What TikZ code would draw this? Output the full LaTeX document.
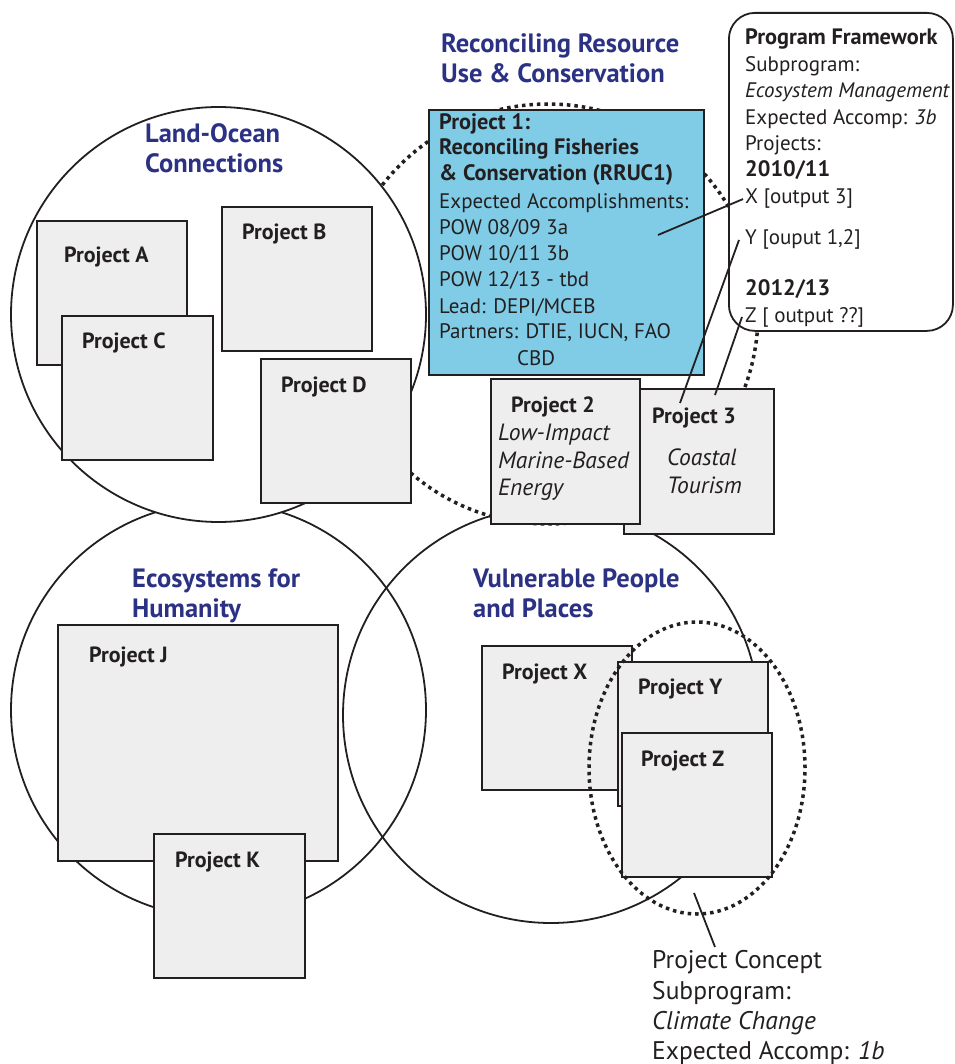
\documentclass[tikz,border=0pt]{standalone}
\usepackage{fontspec}
\setmainfont{PT Sans}
\usetikzlibrary{shapes.geometric}
\definecolor{navy}{RGB}{43,49,131}
\definecolor{ink}{RGB}{35,31,32}
\definecolor{boxgray}{RGB}{238,238,238}
\definecolor{sky}{RGB}{128,204,230}
\begin{document}
\begin{tikzpicture}[x=1pt,y=-1pt,
  txt/.style={anchor=base west, inner sep=0pt, text=ink},
  heading/.style={txt, text=navy, font=\fontsize{26.5}{30}\selectfont\bfseries},
  plabel/.style={txt, font=\fontsize{22}{26}\selectfont\bfseries},
  body/.style={txt, font=\fontsize{21}{26}\selectfont},
  bodybf/.style={txt, font=\fontsize{22.3}{26}\selectfont\bfseries},
  bodyit/.style={txt, font=\fontsize{21}{26}\selectfont\itshape},
  boxit/.style={txt, font=\fontsize{23.5}{28}\selectfont\itshape},
  note/.style={txt, font=\fontsize{25.5}{30}\selectfont},
  proj/.style={draw=ink, line width=2.2pt, fill=boxgray, rectangle, inner sep=0pt, anchor=north west},
  ring/.style={draw=ink, line width=1.8pt, circle, inner sep=0pt},
  dots/.style={draw=ink, line width=3.5pt, dash pattern=on 3.5pt off 4pt},
  link/.style={draw=ink, line width=1.8pt}]
\useasboundingbox (0,0) rectangle (954,1064);

% theme circles
\node[ring, minimum size=415] (eco) at (218.5,710) {};
\node[ring, minimum size=416] (vul) at (551,715) {};
\node[dots, circle, inner sep=0pt, minimum size=420] (rec) at (548,314) {};
\node[ring, fill=white, minimum size=415] (lo) at (218.5,314.5) {};

% programme framework call-out
\node[draw=ink, line width=1.8pt, fill=white, rounded corners=26pt, rectangle,
      inner sep=0pt, anchor=north west, minimum width=224, minimum height=318] (pf) at (728,12) {};

% project boxes
\node[proj, minimum width=150, minimum height=144] (pA) at (36,220) {};
\node[proj, minimum width=151, minimum height=144] (pC) at (61,315) {};
\node[proj, minimum width=150, minimum height=144] (pB) at (221,206) {};
\node[proj, minimum width=150, minimum height=144] (pD) at (260,358) {};
\node[proj, minimum width=280, minimum height=236] (pJ) at (57,624) {};
\node[proj, minimum width=151, minimum height=144] (pK) at (153,833) {};
\node[proj, minimum width=150, minimum height=144] (pX) at (481,645) {};
\node[proj, minimum width=150, minimum height=144] (pY) at (617,661) {};
\node[proj, minimum width=150, minimum height=144] (pZ) at (621,732) {};
\node[proj, minimum width=150, minimum height=145] (p3) at (623,388) {};
\node[proj, minimum width=149, minimum height=145] (p2) at (490,378) {};
\node[proj, fill=sky, minimum width=275, minimum height=265] (p1) at (428,109) {};

% climate change concept grouping
\node[dots, ellipse, inner sep=0pt, minimum width=216, minimum height=292] (cc) at (697,768) {};

% theme headings
\node[heading] (hlo1) at (145,143) {Land-Ocean};
\node[heading] (hlo2) at (145,173) {Connections};
\node[heading] (hrc1) at (441,53) {Reconciling Resource};
\node[heading] (hrc2) at (441,83) {Use \& Conservation};
\node[heading] (hec1) at (132,587) {Ecosystems for};
\node[heading] (hec2) at (132,617) {Humanity};
\node[heading] (hvu1) at (473,587) {Vulnerable People};
\node[heading] (hvu2) at (473,617) {and Places};

% project labels
\node[plabel] (tA) at (64,262) {Project A};
\node[plabel] (tB) at (242,240) {Project B};
\node[plabel] (tC) at (82,348) {Project C};
\node[plabel] (tD) at (281,392) {Project D};
\node[plabel] (tJ) at (89,662) {Project J};
\node[plabel] (tK) at (175,867) {Project K};
\node[plabel] (tX) at (502,679) {Project X};
\node[plabel] (tY) at (638,694) {Project Y};
\node[plabel] (tZ) at (641,766) {Project Z};
\node[plabel] (t2) at (511,412) {Project 2};
\node[boxit] (t2a) at (498,440) {Low-Impact};
\node[boxit] (t2b) at (498,468) {Marine-Based};
\node[boxit] (t2c) at (498,495) {Energy};
\node[plabel] (t3) at (652,423) {Project 3};
\node[boxit] (t3a) at (667,465) {Coastal};
\node[boxit] (t3b) at (667,493) {Tourism};

% project 1 details
\node[bodybf] (b1) at (439,130) {Project 1:};
\node[bodybf] (b2) at (439,155) {Reconciling Fisheries};
\node[bodybf] (b3) at (439,181) {\& Conservation (RRUC1)};
\node[body] (b4) at (439,209) {Expected Accomplishments:};
\node[body] (b5) at (439,235) {POW 08/09 3a};
\node[body] (b6) at (439,261) {POW 10/11 3b};
\node[body] (b7) at (439,287) {POW 12/13 - tbd};
\node[body] (b8) at (439,313) {Lead: DEPI/MCEB};
\node[body] (b9) at (439,338) {Partners: DTIE, IUCN, FAO};
\node[body] (b10) at (517,365) {CBD};

% programme framework text
\node[bodybf] (f1) at (745,45) {Program Framework};
\node[body] (f2) at (745,72) {Subprogram:};
\node[bodyit] (f3) at (745,98) {Ecosystem Management};
\node[body] (f4) at (745,125) {Expected Accomp: \textit{3b}};
\node[body] (f5) at (745,151) {Projects:};
\node[bodybf] (f6) at (745,177) {2010/11};
\node[body] (fx) at (745,204) {X [output 3]};
\node[body] (fy) at (745,245) {Y [ouput 1,2]};
\node[bodybf] (f7) at (745,295) {2012/13};
\node[body] (fz) at (745,322) {Z [ output ??]};

% climate change concept text
\node[note] (c1) at (652,968) {Project Concept};
\node[note] (c2) at (652,999) {Subprogram:};
\node[note, font=\fontsize{25.5}{30}\selectfont\itshape] (c3) at (652,1029) {Climate Change};
\node[note] (c4) at (652,1059) {Expected Accomp: \textit{1b}};

% connectors
\coordinate (k1) at (658,235);
\coordinate (k2) at (680,403);
\coordinate (k3) at (715,395);
\coordinate (k4) at (694,893);
\coordinate (k4e) at (715,947);
\draw[link] (k1) -- ([xshift=-2pt]fx.west);
\draw[link] (k2) -- ([xshift=-6pt]fy.west);
\draw[link] (k3) -- ([xshift=-3pt]fz.west);
\draw[link] (k4) -- (k4e);
\end{tikzpicture}
\end{document}
